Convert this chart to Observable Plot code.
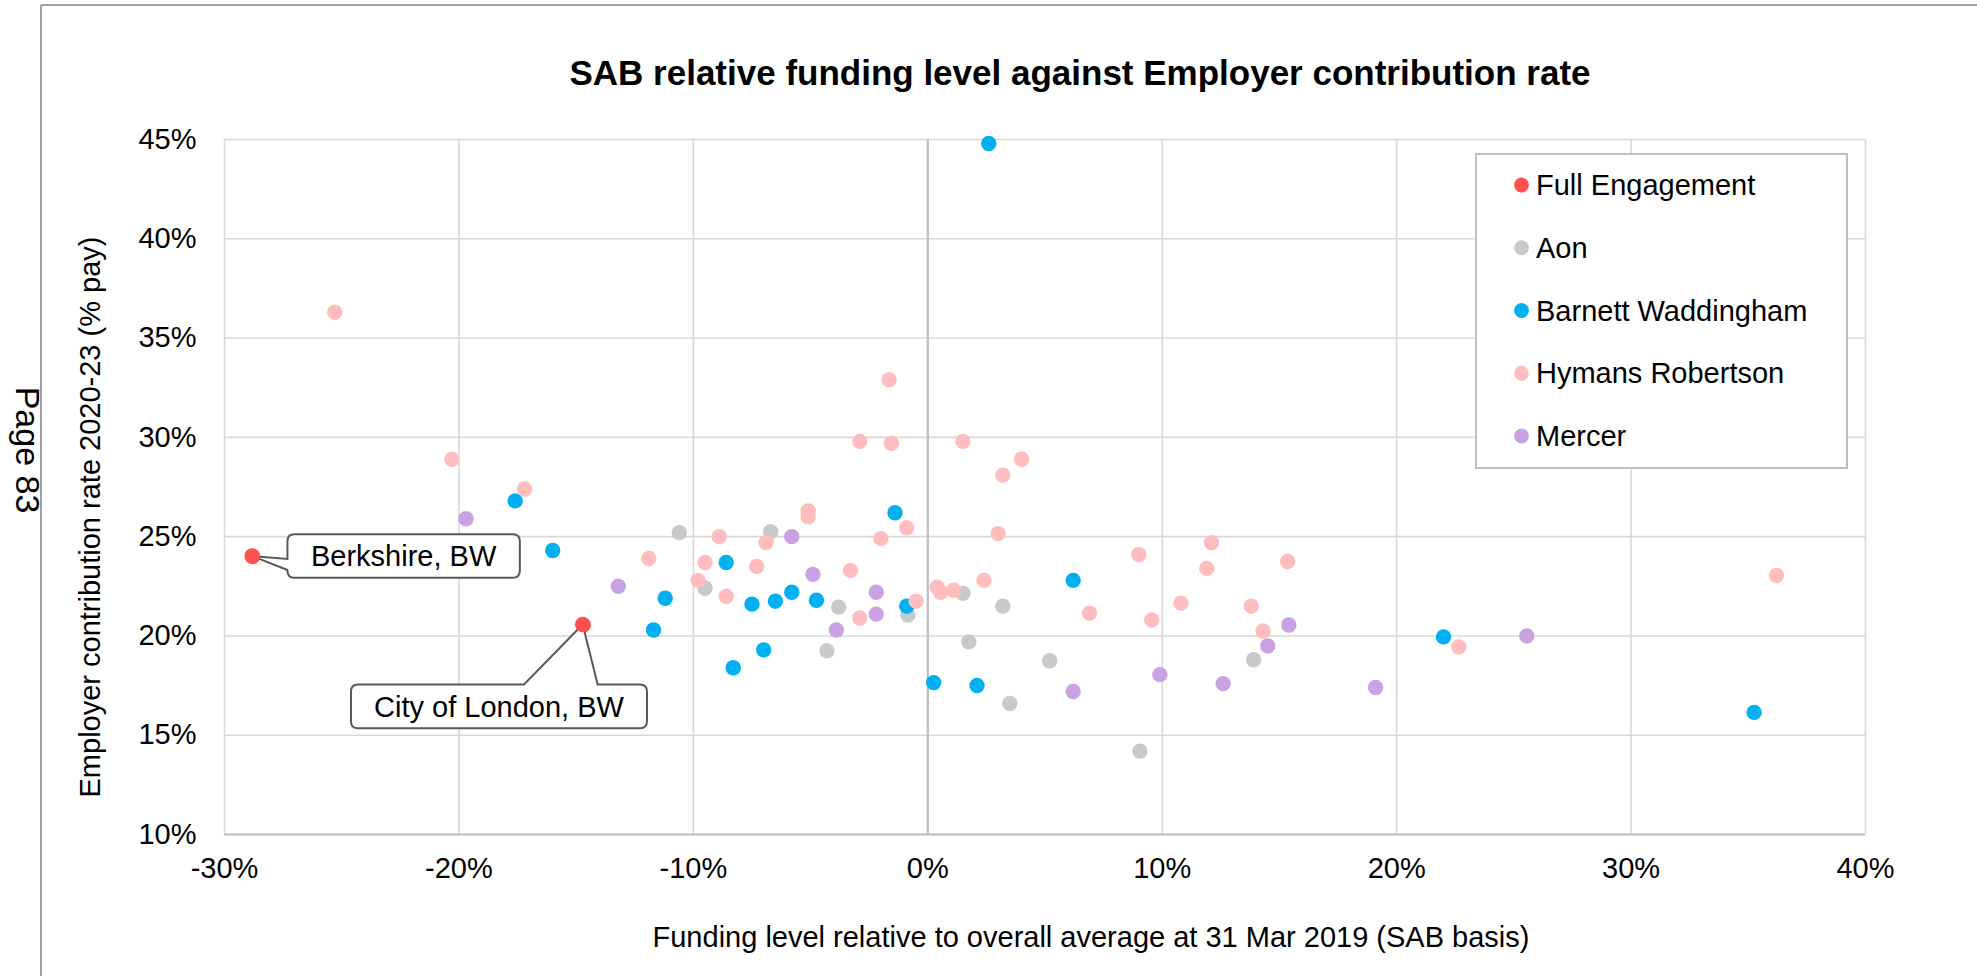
<!DOCTYPE html>
<html>
<head>
<meta charset="utf-8">
<script src="https://cdn.jsdelivr.net/npm/d3@7"></script>
<script src="https://cdn.jsdelivr.net/npm/@observablehq/plot@0.6"></script>
<style>
  html, body { margin: 0; padding: 0; background: #fff; overflow: hidden; }
  #chart { width: 1977px; height: 976px; }
</style>
</head>
<body>
<div id="chart"></div>
<script>
// ---------------- data ----------------
const seriesNames = ["Full Engagement", "Aon", "Barnett Waddingham", "Hymans Robertson", "Mercer"];
const seriesColors = ["#FF4F4F", "#C9C9C9", "#00B0F0", "#FFBDBD", "#C8A2E2"];

// [funding level relative to average (%), employer contribution rate (%)]
const fullEngagement = [[-28.8, 24.0], [-14.7, 20.55]];
const fullEngagementLabels = ["Berkshire, BW", "City of London, BW"];

const aon = [
  [-10.6, 25.2], [-9.5, 22.4], [-6.7, 25.25], [-3.8, 21.45], [-0.85, 21.05],
  [-4.3, 19.25], [1.5, 22.15], [3.2, 21.5], [1.75, 19.7], [3.5, 16.6],
  [5.2, 18.75], [13.9, 18.8], [9.05, 14.2]
];

const barnettWaddingham = [
  [-17.6, 26.8], [-16.0, 24.3], [-8.6, 23.7], [-11.2, 21.9], [-11.7, 20.3],
  [-8.3, 18.4], [-1.4, 26.2], [-7.5, 21.6], [-6.5, 21.75], [-5.8, 22.2],
  [-4.75, 21.8], [-0.9, 21.5], [-7.0, 19.3], [6.2, 22.8], [0.25, 17.65],
  [2.1, 17.5], [22.0, 19.95], [35.25, 16.15], [2.6, 44.8]
];

const hymansRobertson = [
  [-25.3, 36.3], [-20.3, 28.9], [-17.2, 27.4], [-8.9, 25.0], [-11.9, 23.9],
  [-9.5, 23.7], [-9.8, 22.8], [-8.6, 22.0], [-1.65, 32.9], [-2.9, 29.8],
  [-1.55, 29.7], [1.5, 29.8], [4.0, 28.9], [3.2, 28.1], [-5.1, 26.3],
  [-5.1, 26.0], [-0.9, 25.45], [-6.9, 24.7], [-2.0, 24.9], [3.0, 25.15],
  [-7.3, 23.5], [-3.3, 23.3], [-2.9, 20.9], [-0.5, 21.75], [0.4, 22.45],
  [0.55, 22.2], [1.1, 22.3], [2.4, 22.8], [6.9, 21.15], [9.0, 24.1],
  [12.1, 24.7], [11.9, 23.4], [10.8, 21.65], [9.55, 20.8], [13.8, 21.5],
  [14.3, 20.25], [15.35, 23.75], [22.65, 19.45], [36.2, 23.05]
];

const mercer = [
  [-19.7, 25.9], [-13.2, 22.5], [-5.8, 25.0], [-4.9, 23.1], [-2.2, 22.2],
  [-2.2, 21.1], [-3.9, 20.3], [6.2, 17.2], [14.5, 19.5], [9.9, 18.05],
  [12.6, 17.6], [15.4, 20.55], [19.1, 17.4], [25.55, 20.0]
];

const xTicks = [-30, -20, -10, 0, 10, 20, 30, 40];
const yTicks = [10, 15, 20, 25, 30, 35, 40, 45];

const chartTitle = "SAB relative funding level against Employer contribution rate";
const xTitle = "Funding level relative to overall average at 31 Mar 2019 (SAB basis)";
const yTitle = "Employer contribution rate 2020-23 (% pay)";
const pageLabel = "Page 83";

// ---------------- build table ----------------
const seriesData = [fullEngagement, aon, barnettWaddingham, hymansRobertson, mercer];
const rows = seriesData.flatMap((pts, i) =>
  pts.map(([x, y]) => ({ series: seriesNames[i], x, y }))
);

const FONT = "'Liberation Sans', Arial, Helvetica, sans-serif";
const pct = d => d + "%";
const DOT_R = 7.7;

const plot = Plot.plot({
  width: 1977,
  height: 976,
  marginLeft: 224,
  marginRight: 112,
  marginTop: 139,
  marginBottom: 142,
  x: { domain: [-30, 40] },
  y: { domain: [10, 45] },
  color: { domain: seriesNames, range: seriesColors },
  style: { fontFamily: FONT, fontSize: "29px", color: "#000", background: "#fff" },
  marks: [
    Plot.ruleX(xTicks, { stroke: "#D9D9D9", strokeWidth: 1.6 }),
    Plot.ruleY(yTicks, { stroke: "#D9D9D9", strokeWidth: 1.6 }),
    Plot.ruleX([0], { stroke: "#BFBFBF", strokeWidth: 2.2 }),
    Plot.ruleY([10], { stroke: "#BFBFBF", strokeWidth: 2.2 }),
    Plot.dot(rows, { x: "x", y: "y", fill: "series", r: DOT_R }),
    Plot.axisX({ ticks: xTicks, tickFormat: pct, tickSize: 0, tickPadding: 23, label: null, fontSize: 29 }),
    Plot.axisY({ ticks: yTicks, tickFormat: pct, tickSize: 0, tickPadding: 28, label: null, fontSize: 29 })
  ]
});

document.getElementById("chart").appendChild(plot);

const svg = d3.select(plot);
const sx = plot.scale("x"), sy = plot.scale("y");
const colorOf = name => seriesColors[seriesNames.indexOf(name)];

// outer frame of the embedded chart object
svg.append("line").attr("x1", 41).attr("x2", 1977).attr("y1", 5).attr("y2", 5)
  .attr("stroke", "#A0A0A0").attr("stroke-width", 2);
svg.append("line").attr("x1", 41).attr("x2", 41).attr("y1", 5).attr("y2", 976)
  .attr("stroke", "#A0A0A0").attr("stroke-width", 2);

// title
svg.append("text").attr("x", 1080).attr("y", 85).attr("text-anchor", "middle")
  .attr("font-family", FONT).attr("font-size", 35).attr("font-weight", "bold")
  .attr("fill", "#000").text(chartTitle);

// axis titles
svg.append("text").attr("x", 1091).attr("y", 947).attr("text-anchor", "middle")
  .attr("font-family", FONT).attr("font-size", 29).attr("fill", "#000").text(xTitle);
svg.append("text").attr("transform", "translate(100,517) rotate(-90)")
  .attr("text-anchor", "middle").attr("font-family", FONT).attr("font-size", 29)
  .attr("fill", "#000").text(yTitle);

// page marker
svg.append("text").attr("transform", "translate(16,450) rotate(90)")
  .attr("text-anchor", "middle").attr("font-family", FONT).attr("font-size", 34)
  .attr("fill", "#000").text(pageLabel);

// legend box
const lg = svg.append("g");
lg.append("rect").attr("x", 1476).attr("y", 154).attr("width", 371).attr("height", 314)
  .attr("fill", "#fff").attr("stroke", "#BFBFBF").attr("stroke-width", 2);
seriesNames.forEach((name, i) => {
  const cy = 185 + i * 62.75;
  lg.append("circle").attr("cx", 1521.5).attr("cy", cy).attr("r", 7.4).attr("fill", colorOf(name));
  lg.append("text").attr("x", 1536).attr("y", cy + 10).attr("text-anchor", "start")
    .attr("font-family", FONT).attr("font-size", 29).attr("fill", "#000").text(name);
});

// callouts for the Full Engagement funds
const r = 7;
function calloutLeftWedge(px, py, label) {
  const L = px + 35.3, R = px + 267.7, T = py - 21.7, B = py + 21.7;
  const w1 = py + 3, w2 = py + 14;
  const d = `M${L + r},${T} H${R - r} Q${R},${T} ${R},${T + r} V${B - r} Q${R},${B} ${R - r},${B}` +
    ` H${L + r} Q${L},${B} ${L},${B - r} V${w2} L${px},${py} L${L},${w1} V${T + r} Q${L},${T} ${L + r},${T} Z`;
  svg.append("path").attr("d", d).attr("fill", "#fff").attr("stroke", "#595959").attr("stroke-width", 2);
  svg.append("text").attr("x", (L + R) / 2).attr("y", py + 10.3).attr("text-anchor", "middle")
    .attr("font-family", FONT).attr("font-size", 29).attr("fill", "#000").text(label);
}
function calloutTopWedge(px, py, label) {
  const L = px - 231.7, R = px + 64.3, T = py + 60, B = py + 103.7;
  const w1 = px - 58.7, w2 = px + 15;
  const d = `M${L + r},${T} H${w1} L${px},${py} L${w2},${T} H${R - r} Q${R},${T} ${R},${T + r} V${B - r}` +
    ` Q${R},${B} ${R - r},${B} H${L + r} Q${L},${B} ${L},${B - r} V${T + r} Q${L},${T} ${L + r},${T} Z`;
  svg.append("path").attr("d", d).attr("fill", "#fff").attr("stroke", "#595959").attr("stroke-width", 2);
  svg.append("text").attr("x", (L + R) / 2).attr("y", (T + B) / 2 + 10.3).attr("text-anchor", "middle")
    .attr("font-family", FONT).attr("font-size", 29).attr("fill", "#000").text(label);
}
calloutLeftWedge(sx.apply(fullEngagement[0][0]), sy.apply(fullEngagement[0][1]), fullEngagementLabels[0]);
calloutTopWedge(sx.apply(fullEngagement[1][0]), sy.apply(fullEngagement[1][1]), fullEngagementLabels[1]);

// keep the two highlighted points above the callout outlines
fullEngagement.forEach(([x, y]) => {
  svg.append("circle").attr("cx", sx.apply(x)).attr("cy", sy.apply(y)).attr("r", DOT_R)
    .attr("fill", colorOf("Full Engagement"));
});
</script>
</body>
</html>
